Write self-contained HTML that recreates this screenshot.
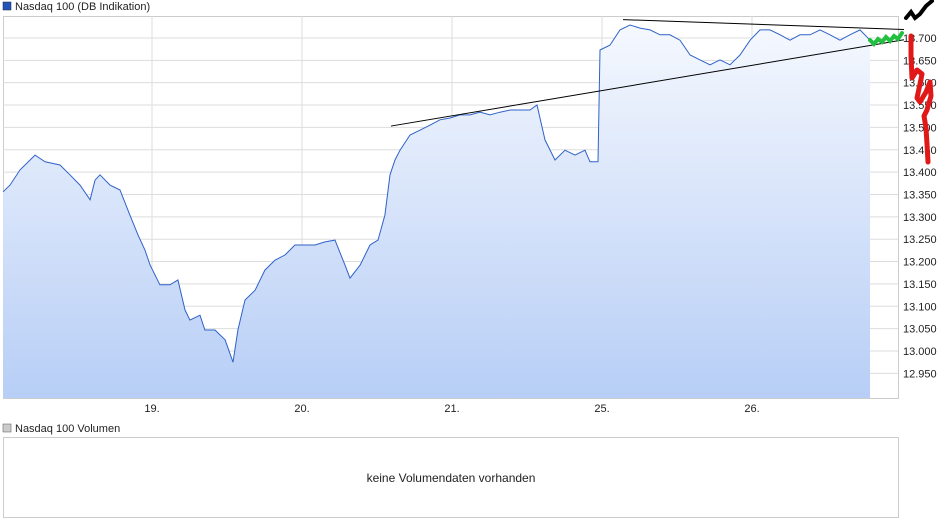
<!DOCTYPE html>
<html><head><meta charset="utf-8"><style>
body{margin:0;background:#fff;font-family:"Liberation Sans",sans-serif;}
svg{display:block}
</style></head><body>
<svg width="940" height="526" id="c" font-family="Liberation Sans, sans-serif">
<defs><linearGradient id="g" x1="0" y1="0" x2="0" y2="1"><stop offset="0" stop-color="#f5f8fe"/><stop offset="1" stop-color="#b7cef6"/></linearGradient></defs>
<rect x="3" y="2" width="8" height="8" fill="#2255bb" stroke="#223" stroke-width="0.5"/>
<text x="15" y="10" font-size="11" fill="#222">Nasdaq 100 (DB Indikation)</text>
<rect x="3.5" y="16.5" width="895" height="382" fill="none" stroke="#ccc"/>
<g id="grid"></g><g id="area"></g><g id="ann"></g><g id="axes"></g>
<rect x="3" y="424" width="8" height="8" fill="#ccc" stroke="#555" stroke-width="0.5"/>
<text x="15" y="432" font-size="11" fill="#222">Nasdaq 100 Volumen</text>
<rect x="3.5" y="437.5" width="895" height="80" fill="none" stroke="#ccc"/>
<text x="451" y="482" font-size="12" text-anchor="middle" fill="#222">keine Volumendaten vorhanden</text>
<path d="M870 40 l4 4 l4 -5 l4 3 l4 -5 l4 4 l4 -5 l4 3 l4 -6" fill="none" stroke="#22c040" stroke-width="4" stroke-linecap="round"/>
<path d="M906 18 l5 -6 l4 6 l5 -4 l6 -8 l6 -5" fill="none" stroke="#000" stroke-width="4" stroke-linecap="round"/>
<path d="M911 36 l0 20 l1 22 l5 -8 l5 4 l-2 10 l-3 14 l3 4 l6 -10 l4 -10 l1 14 l-4 14 l-3 6 l2 12 l1 16 l1 18" fill="none" stroke="#e01818" stroke-width="5" stroke-linecap="round" stroke-linejoin="round"/>
</svg>
<script>
const times=[-0.993,-0.947,-0.88,-0.813,-0.78,-0.713,-0.613,-0.547,-0.48,-0.413,-0.38,-0.347,-0.28,-0.213,-0.147,-0.093,-0.047,-0.013,0.053,0.12,0.173,0.22,0.253,0.32,0.353,0.42,0.487,0.54,0.573,0.62,0.687,0.753,0.82,0.887,0.953,1.02,1.087,1.153,1.22,1.287,1.32,1.387,1.453,1.507,1.553,1.587,1.62,1.653,1.72,1.787,1.853,1.92,1.987,2.053,2.12,2.187,2.253,2.32,2.387,2.453,2.52,2.567,2.62,2.687,2.753,2.82,2.887,2.92,2.973,2.987,3.053,3.12,3.187,3.253,3.32,3.387,3.453,3.52,3.587,3.653,3.72,3.787,3.853,3.92,3.987,4.053,4.12,4.187,4.253,4.32,4.387,4.453,4.52,4.587,4.653,4.72,4.787];
const values=[13356,13371,13405,13427,13438,13423,13416,13394,13371,13338,13382,13394,13371,13360,13304,13259,13226,13192,13148,13148,13159,13092,13069,13080,13047,13047,13025,12975,13047,13114,13136,13181,13203,13215,13237,13237,13237,13244,13248,13192,13163,13192,13237,13248,13304,13394,13427,13449,13483,13494,13505,13517,13521,13528,13528,13534,13528,13534,13539,13539,13539,13550,13472,13427,13449,13438,13449,13423,13423,13673,13684,13718,13729,13722,13718,13707,13707,13695,13662,13651,13640,13651,13640,13662,13695,13718,13718,13707,13695,13707,13707,13718,13707,13695,13707,13718,13695];
const yTicks=[12950,13000,13050,13100,13150,13200,13250,13300,13350,13400,13450,13500,13550,13600,13650,13700];
const dayTicks=[0,1,2,3,4];
const dayLabels=["19.","20.","21.","25.","26."];
const trendLow=[[1.593,13503],[5.013,13696]];
const trendHigh=[[3.14,13741],[5.013,13719]];
const X=t=>152+t*150, Y=v=>351-(v-13000)/50*22.36;
const NS="http://www.w3.org/2000/svg";
function mk(tag,attrs,parent){const e=document.createElementNS(NS,tag);for(const k in attrs)e.setAttribute(k,attrs[k]);document.getElementById(parent).appendChild(e);return e;}
yTicks.forEach((v,i)=>{
 const l=mk('line',{x1:3,x2:898,y1:Y(v),y2:Y(v),stroke:'#ddd'},'grid');
 
 
 const t=mk('text',{x:903,y:Y(v)+4,'font-size':11,fill:'#222'},'axes');
 t.textContent=(Math.floor(v/1000))+'.'+String(v%1000).padStart(3,'0');
 
 
});
dayTicks.forEach((d,i)=>{
 const l=mk('line',{x1:X(d),x2:X(d),y1:16,y2:398,stroke:'#ddd'},'grid');
 
 
 const t=mk('text',{x:X(d),y:412,'font-size':11,fill:'#222','text-anchor':'middle'},'axes');
 t.textContent=dayLabels[i];
 
 
});
let d=times.map((t,i)=>(i?'L':'M')+X(t).toFixed(1)+' '+Y(values[i]).toFixed(1)).join(' ');
const a=mk('path',{d:d+` L${X(times[times.length-1])} 398 L${X(times[0])} 398 Z`,fill:'url(#g)'},'area');


const ln=mk('path',{d:d,fill:'none',stroke:'#2f62c8','stroke-width':1},'area');


[trendLow,trendHigh].forEach(tr=>{
 const l=mk('line',{x1:X(tr[0][0]),y1:Y(tr[0][1]),x2:X(tr[1][0]),y2:Y(tr[1][1]),stroke:'#000','stroke-width':1},'ann');
 
 
});
</script>
</body></html>
